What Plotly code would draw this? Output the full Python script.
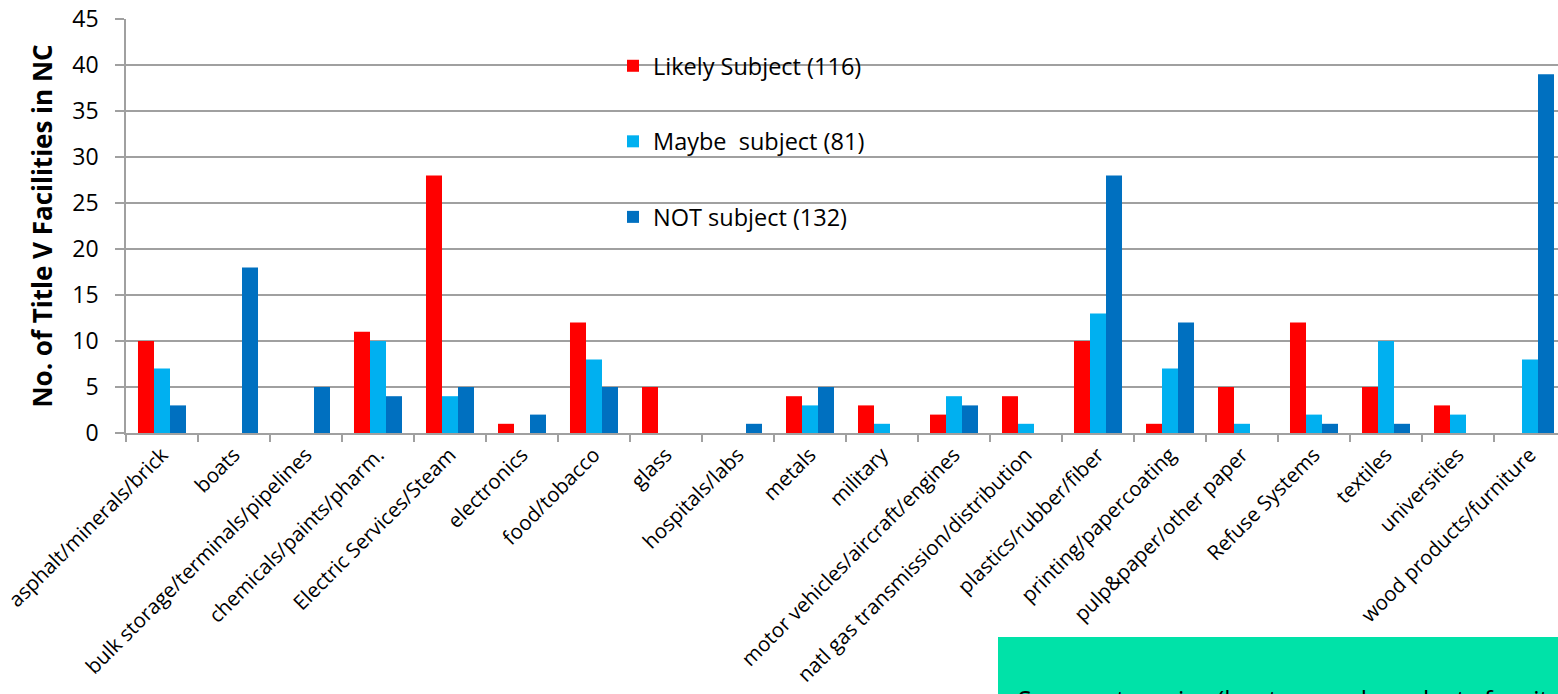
import plotly.graph_objects as go

categories = ["asphalt/minerals/brick", "boats", "bulk storage/terminals/pipelines",
              "chemicals/paints/pharm.", "Electric Services/Steam", "electronics",
              "food/tobacco", "glass", "hospitals/labs", "metals", "military",
              "motor vehicles/aircraft/engines", "natl gas transmission/distribution",
              "plastics/rubber/fiber", "printing/papercoating", "pulp&paper/other paper",
              "Refuse Systems", "textiles", "universities", "wood products/furniture"]
likely = [10, 0, 0, 11, 28, 1, 12, 5, 0, 4, 3, 2, 4, 10, 1, 5, 12, 5, 3, 0]
maybe = [7, 0, 0, 10, 4, 0, 8, 0, 0, 3, 1, 4, 1, 13, 7, 1, 2, 10, 2, 8]
not_subj = [3, 18, 5, 4, 5, 2, 5, 0, 1, 5, 0, 3, 0, 28, 12, 0, 1, 1, 0, 39]
series_names = ["Likely Subject (116)", "Maybe  subject (81)", "NOT subject (132)"]
y_ticks = [0, 5, 10, 15, 20, 25, 30, 35, 40, 45]
note_text = "Some categories (boats, wood products furniture, plastics) are mostly NOT subject"

colors = ["#FF0000", "#00B0F0", "#0070C0"]
FONT = "'Open Sans', Lato, sans-serif"

W, H = 1558, 694
L, R, T, B = 126, 0, 19, 261
PW = W - L - R
PH = H - T - B

def px_x(p):
    return (p - L) / PW

def px_y(p):
    return (H - B - p) / PH

fig = go.Figure()
for name, vals, col in zip(series_names, [likely, maybe, not_subj], colors):
    fig.add_trace(go.Bar(x=categories, y=vals, name=name, marker_color=col,
                         marker_line_width=0, legendgroup=name))

grid_col = "#a0a0a0"
fig.update_layout(
    width=W, height=H,
    margin=dict(l=L, r=R, t=T, b=B, pad=0),
    paper_bgcolor="white", plot_bgcolor="white",
    barmode="group", bargap=0.333, bargroupgap=0,
    font=dict(family=FONT, color="black"),
    showlegend=True,
    legend=dict(x=px_x(613), y=px_y(44), xanchor="left", yanchor="top",
                xref="paper", yref="paper",
                bgcolor="rgba(0,0,0,0)", borderwidth=0,
                font=dict(size=23.5, family=FONT, color="black"),
                tracegroupgap=42, traceorder="grouped"),
    xaxis=dict(range=[-0.5, 19.5 - 8 / 72], showline=True, linecolor=grid_col, linewidth=1.5,
               ticks="outside", tickson="boundaries", ticklen=7, tickcolor=grid_col,
               tickwidth=1.5, tickangle=-45, tickfont=dict(size=20.5, family=FONT, color="black"),
               showgrid=False, fixedrange=True),
    yaxis=dict(range=[0, 45], tickvals=y_ticks, showline=True, linecolor=grid_col,
               linewidth=1.5, ticks="outside", ticklen=9, tickcolor=grid_col, tickwidth=1.5,
               showgrid=True, gridcolor=grid_col, gridwidth=1.5, zeroline=False,
               ticklabelstandoff=12,
               tickfont=dict(size=23, family=FONT, color="black"),
               title=dict(text="<b>No. of Title V Facilities in NC</b>",
                          font=dict(size=26, family=FONT, color="black"), standoff=12)),
)

# white legend background box covering gridlines
fig.add_shape(type="rect", xref="paper", yref="paper",
              x0=px_x(542), x1=px_x(956), y0=px_y(256), y1=px_y(30),
              fillcolor="white", line_width=0, layer="between")

# green note box at bottom right
fig.add_shape(type="rect", xref="paper", yref="paper",
              x0=px_x(998), x1=px_x(1600), y0=px_y(740), y1=px_y(637),
              fillcolor="#00E2A8", line_width=0, layer="above")
fig.add_annotation(text=note_text, xref="paper", yref="paper",
                   x=px_x(1016), y=px_y(680), xanchor="left", yanchor="top",
                   showarrow=False, align="left",
                   font=dict(size=25, family=FONT, color="black"))

fig.write_html("out.html")
